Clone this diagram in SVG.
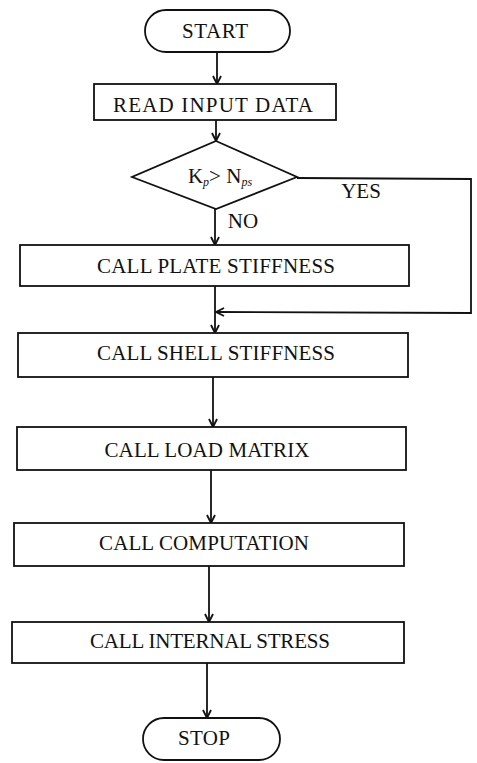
<svg xmlns="http://www.w3.org/2000/svg" width="477" height="763" viewBox="0 0 477 763">
<style>
.b{fill:#fff;stroke:#111;stroke-width:1.8}
.t{font-family:"Liberation Serif","Times New Roman",serif;font-size:21px;fill:#111;text-anchor:middle}
.s{font-size:12px;font-style:italic}
.c{fill:none;stroke:#111;stroke-width:1.8}
</style>
<defs>
<marker id="ah" viewBox="0 0 10 10" refX="9" refY="5" markerWidth="10" markerHeight="10" markerUnits="userSpaceOnUse" orient="auto">
<path d="M1,1 L9,5 L1,9" fill="none" stroke="#111" stroke-width="1.8"/>
</marker>
</defs>
<rect width="477" height="763" fill="#fff"/>
<g id="connectors">
<line class="c" x1="217" y1="52" x2="217" y2="84" marker-end="url(#ah)"/>
<line class="c" x1="216" y1="120" x2="216" y2="141" marker-end="url(#ah)"/>
<line class="c" x1="215" y1="209" x2="215" y2="245" marker-end="url(#ah)"/>
<line class="c" x1="215" y1="286" x2="215" y2="333" marker-end="url(#ah)"/>
<polyline class="c" points="297,178 471,179 471,313 216,312" marker-end="url(#ah)"/>
<line class="c" x1="213" y1="377" x2="213" y2="427" marker-end="url(#ah)"/>
<line class="c" x1="211" y1="470" x2="211" y2="523" marker-end="url(#ah)"/>
<line class="c" x1="209" y1="566" x2="209" y2="622" marker-end="url(#ah)"/>
<line class="c" x1="207" y1="663" x2="207" y2="718" marker-end="url(#ah)"/>
<text class="t" x="361" y="198">YES</text>
<text class="t" x="243" y="228">NO</text>
</g>
<g id="start">
<rect class="b" x="145" y="10" width="145" height="42" rx="21"/>
<text class="t" x="215" y="38" textLength="66">START</text>
</g>
<g id="read">
<rect class="b" x="94" y="84" width="242" height="36"/>
<text class="t" x="213" y="112" textLength="200">READ INPUT DATA</text>
</g>
<g id="decision">
<polygon class="b" points="216,141 297,177 216,209 132,177"/>
<text class="t" x="220" y="183">K<tspan class="s" dy="3">p</tspan><tspan dy="-3">&gt; N</tspan><tspan class="s" dy="3">ps</tspan></text>
</g>
<g id="plate">
<rect class="b" x="20" y="245" width="389" height="41"/>
<text class="t" x="216" y="273" textLength="238">CALL PLATE STIFFNESS</text>
</g>
<g id="shell">
<rect class="b" x="18" y="333" width="390" height="44"/>
<text class="t" x="216" y="360" textLength="238">CALL SHELL STIFFNESS</text>
</g>
<g id="load">
<rect class="b" x="17" y="427" width="389" height="43"/>
<text class="t" x="207" y="457" textLength="205">CALL LOAD MATRIX</text>
</g>
<g id="computation">
<rect class="b" x="14" y="523" width="390" height="43"/>
<text class="t" x="204" y="550" textLength="210">CALL COMPUTATION</text>
</g>
<g id="internal">
<rect class="b" x="12" y="622" width="392" height="41"/>
<text class="t" x="210" y="648" textLength="240">CALL INTERNAL STRESS</text>
</g>
<g id="stop">
<rect class="b" x="143" y="718" width="137" height="42" rx="21"/>
<text class="t" x="204" y="745" textLength="52">STOP</text>
</g>
</svg>
